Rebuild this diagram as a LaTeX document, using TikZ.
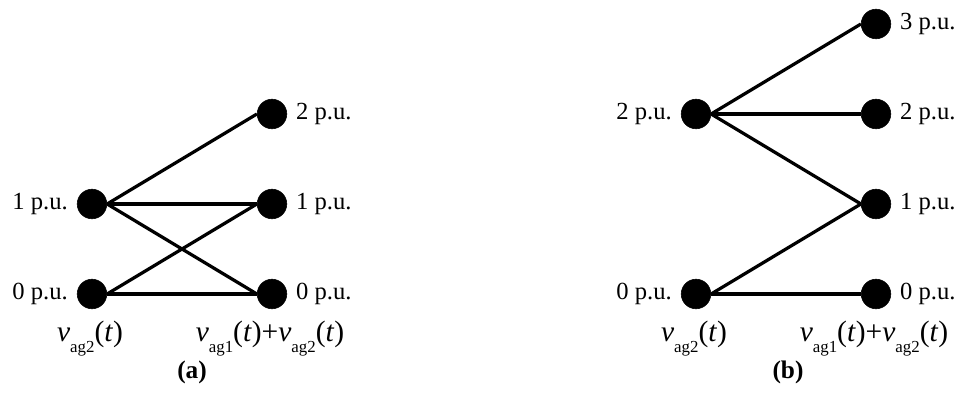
\documentclass[tikz,border=0pt]{standalone}
\usepackage{fontspec}
\setmainfont{Liberation Serif}
\newcommand{\vagsub}[1]{\textit{v}\raisebox{-0.75ex}{\fontsize{12}{13}\selectfont ag#1}(\textit{t})}
\begin{document}
\begin{tikzpicture}[
  label distance=2.2mm,
  every label/.style={font={\fontsize{17.5}{21}\selectfont}, inner sep=0pt},
  lvlnode/.style={circle, draw=black, fill=black, minimum size=7.4mm, inner sep=0pt},
  lvledge/.style={draw=black, line width=2.3pt},
  lvllbl/.style={font={\fontsize{21}{24}\selectfont}, inner sep=0pt, anchor=base},
  caplbl/.style={font={\fontsize{18}{22}\selectfont\bfseries}, inner sep=0pt}
]
\useasboundingbox (0,0) rectangle (24.0000,9.8500);
% (a)
\node[lvlnode, label={left:1 p.u.}] (al1) at (2.3000,4.7500) {};
\node[lvlnode, label={left:0 p.u.}] (al0) at (2.3000,2.5000) {};
\node[lvlnode, label={right:2 p.u.}] (ar2) at (6.8000,7.0000) {};
\node[lvlnode, label={right:1 p.u.}] (ar1) at (6.8000,4.7500) {};
\node[lvlnode, label={right:0 p.u.}] (ar0) at (6.8000,2.5000) {};
\draw[lvledge] (al1.east) -- (ar2.west);
\draw[lvledge] (al1.east) -- (ar1.west);
\draw[lvledge] (al1.east) -- (ar0.west);
\draw[lvledge] (al0.east) -- (ar1.west);
\draw[lvledge] (al0.east) -- (ar0.west);
\node[lvllbl] (ax1) at (2.2500,1.3000) {\vagsub{2}};
\node[lvllbl] (ax2) at (6.7500,1.3000) {\vagsub{1}+\vagsub{2}};
\node[caplbl] (acap) at (4.8000,0.5500) {(a)};
% (b)
\node[lvlnode, label={left:2 p.u.}] (bl2) at (17.4000,7.0000) {};
\node[lvlnode, label={left:0 p.u.}] (bl0) at (17.4000,2.5000) {};
\node[lvlnode, label={right:3 p.u.}] (br3) at (21.9000,9.2500) {};
\node[lvlnode, label={right:2 p.u.}] (br2) at (21.9000,7.0000) {};
\node[lvlnode, label={right:1 p.u.}] (br1) at (21.9000,4.7500) {};
\node[lvlnode, label={right:0 p.u.}] (br0) at (21.9000,2.5000) {};
\draw[lvledge] (bl2.east) -- (br3.west);
\draw[lvledge] (bl2.east) -- (br2.west);
\draw[lvledge] (bl2.east) -- (br1.west);
\draw[lvledge] (bl0.east) -- (br1.west);
\draw[lvledge] (bl0.east) -- (br0.west);
\node[lvllbl] (bx1) at (17.3500,1.3000) {\vagsub{2}};
\node[lvllbl] (bx2) at (21.8500,1.3000) {\vagsub{1}+\vagsub{2}};
\node[caplbl] (bcap) at (19.7000,0.5500) {(b)};
\end{tikzpicture}
\end{document}
